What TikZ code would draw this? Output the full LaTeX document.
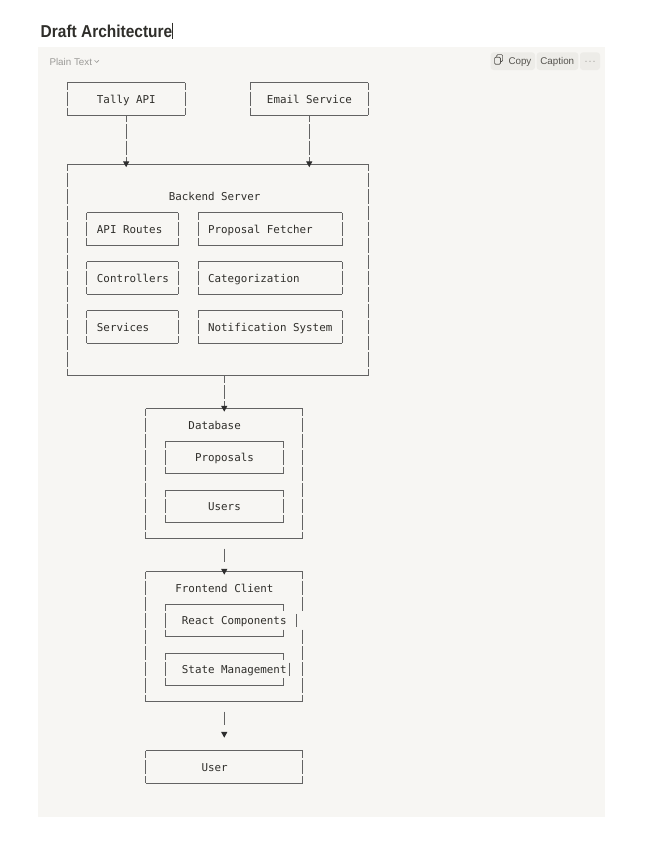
\documentclass[tikz,border=0pt]{standalone}
\usepackage{fontspec}
\setmainfont{Liberation Sans}
\newfontfamily\monofont{DejaVu Sans Mono}
\newfontfamily\titlefont[FakeStretch=0.9]{Liberation Sans}
\usetikzlibrary{arrows.meta,calc}
\definecolor{blockbg}{HTML}{F7F6F3}
\definecolor{linec}{HTML}{636363}
\definecolor{txt}{HTML}{2F2E2A}
\definecolor{arrowc}{HTML}{2E2E2E}
\definecolor{uigray}{HTML}{9B9A97}
\definecolor{btnbg}{HTML}{EDECE8}
\definecolor{btntxt}{HTML}{55534E}
\tikzset{
  hline/.style={draw=linec, line width=0.95pt, line cap=square},
  vline/.style={draw=linec, line width=0.95pt, dash pattern=on 14.3pt off 2pt, dash phase=7.15pt},
  vlineB/.style={draw=linec, line width=0.95pt, dash pattern=on 14.3pt off 2pt},
  bar/.style={draw=linec, line width=0.95pt},
  abox/.style 2 args={rectangle, inner sep=0pt, outer sep=0pt, minimum width=#1*6.54pt, minimum height=#2*16.3pt},
  lbl/.style={anchor=base west, inner sep=0pt, font=\monofont\fontsize{10.86}{13}\selectfont, text=txt},
  conn/.style={vline, -{Triangle[width=6pt,length=5.8pt,color=arrowc]}},
  shortconn/.style={draw=linec, line width=0.95pt, dash pattern=on 0pt off 9.65pt on 13.3pt off 40pt, -{Triangle[width=6pt,length=5.8pt,color=arrowc]}},
  uilbl/.style={anchor=base west, inner sep=0pt, font=\fontsize{9.8}{12}\selectfont},
  btn/.style={fill=btnbg, rounded corners=3pt}
}
\newcommand\asciibox[1]{%
  \draw[hline] (#1.north west) -- (#1.north east);
  \draw[hline] (#1.south west) -- (#1.south east);
  \draw[vline] (#1.north west) -- (#1.south west);
  \draw[vline] (#1.north east) -- (#1.south east);}
\begin{document}
\begin{tikzpicture}[x=1pt,y=-1pt]
\useasboundingbox (0,0) rectangle (662,847);
\fill[white] (0,0) rectangle (662,847);
\fill[blockbg] (38,47) rectangle (605,817);
% title and cursor
\node[anchor=base west, inner sep=0pt, font=\titlefont\bfseries\fontsize{17.2}{20}\selectfont, text=txt] (title) at (40.5,37.5) {Draft Architecture};
\draw[txt, line width=1.1pt] (172.7,22.7) -- (172.7,39.3);
% code block header
\node[uilbl, text=uigray, font=\fontsize{9.8}{11}\selectfont] (lang) at (49.3,65) {Plain Text};
\draw[uigray, line width=0.6pt] (94.6,60.3) -- (96.7,62.5) -- (98.8,60.3);
\fill[btn] (490.7,52.3) rectangle (535,70);
\fill[btn] (536.7,52.3) rectangle (578.3,70);
\fill[btn] (580,52.3) rectangle (600,70);
\draw[btntxt, line width=0.7pt, rounded corners=1pt] (496.8,54.6) rectangle (502.6,61.4);
\filldraw[fill=btnbg, draw=btntxt, line width=0.7pt, rounded corners=1pt] (494.6,57.2) rectangle (500.4,64.2);
\node[uilbl, text=btntxt] (copy) at (508.3,64.6) {Copy};
\node[uilbl, text=btntxt] (caption) at (540.2,64.6) {Caption};
\fill[uigray] (586,61.2) circle (0.65pt) (590,61.2) circle (0.65pt) (594,61.2) circle (0.65pt);

\begin{scope}[shift={(67.3,82.5)}, x=6.54pt, y=-16.3pt]
  % boxes
  \node[abox={18}{2}] (tally) at (9,1) {};
  \node[abox={18}{2}] (email) at (37,1) {};
  \node[abox={46}{13}] (backend) at (23,11.5) {};
  \node[abox={14}{2}] (apir) at (10,9) {};
  \node[abox={22}{2}] (fetch) at (31,9) {};
  \node[abox={14}{2}] (ctrl) at (10,12) {};
  \node[abox={22}{2}] (categ) at (31,12) {};
  \node[abox={14}{2}] (serv) at (10,15) {};
  \node[abox={22}{2}] (notif) at (31,15) {};
  \node[abox={24}{8}] (db) at (24,24) {};
  \node[abox={18}{2}] (props) at (24,23) {};
  \node[abox={18}{2}] (users) at (24,26) {};
  \node[abox={24}{8}] (fe) at (24,34) {};
  \node[abox={18}{2}] (react) at (24,33) {};
  \node[abox={18}{2}] (state) at (24,36) {};
  \node[abox={24}{2}] (user) at (24,42) {};
  \coordinate (uarrow) at ($(user.north)+(0,-1+0.196)$);

  \asciibox{tally}
  \asciibox{email}
  \asciibox{backend}
  \asciibox{apir}
  \asciibox{fetch}
  \asciibox{ctrl}
  \asciibox{categ}
  \asciibox{serv}
  \asciibox{notif}
  \asciibox{db}
  \asciibox{props}
  \asciibox{users}
  \asciibox{user}
  % frontend box (right side broken by the long row)
  \draw[hline] (fe.north west) -- (fe.north east);
  \draw[hline] (fe.south west) -- (fe.south east);
  \draw[vline] (fe.north west) -- (fe.south west);
  \draw[vline] (fe.north east) -- ($(fe.north east)+(0,2.5-0.061)$);
  \draw[vlineB] ($(fe.south east)+(0,-4.5+0.061)$) -- (fe.south east);
  % react and state boxes (right side only corners)
  \foreach \b in {react,state}{
    \draw[hline] (\b.north west) -- (\b.north east);
    \draw[hline] (\b.south west) -- (\b.south east);
    \draw[vline] (\b.north west) -- (\b.south west);
    \draw[bar] (\b.north east) -- ($(\b.north east)+(0,0.5-0.061)$);
    \draw[bar] ($(\b.south east)+(0,-0.5+0.061)$) -- (\b.south east);
  }
  \draw[bar] (35,33-0.408) -- (35,33+0.408);
  \draw[bar] (34,36-0.408) -- (34,36+0.408);

  % labels
  \node[lbl] (tTally) at (4.5,1.264) {Tally API};
  \node[lbl] (tEmail) at (30.5,1.264) {Email Service};
  \node[lbl] (tBackend) at (15.5,7.264) {Backend Server};
  \node[lbl] (tApi) at (4.5,9.264) {API Routes};
  \node[lbl] (tFetch) at (21.5,9.264) {Proposal Fetcher};
  \node[lbl] (tCtrl) at (4.5,12.264) {Controllers};
  \node[lbl] (tCateg) at (21.5,12.264) {Categorization};
  \node[lbl] (tServ) at (4.5,15.264) {Services};
  \node[lbl] (tNotif) at (21.5,15.264) {Notification System};
  \node[lbl] (tDb) at (18.5,21.264) {Database};
  \node[lbl] (tProps) at (19.5,23.264) {Proposals};
  \node[lbl] (tUsers) at (21.5,26.264) {Users};
  \node[lbl] (tFe) at (16.5,31.264) {Frontend Client};
  \node[lbl] (tReact) at (17.5,33.264) {React Components};
  \node[lbl] (tState) at (17.5,36.264) {State Management};
  \node[lbl] (tUser) at (20.5,42.264) {User};

  % connectors
  \draw[conn] (tally.south) -- ($(tally.south |- backend.north)+(0,0.196)$);
  \draw[conn] (email.south) -- ($(email.south |- backend.north)+(0,0.196)$);
  \draw[conn] (backend.south -| db.north) -- ($(db.north)+(0,0.196)$);
  \draw[shortconn] (db.south) -- ($(fe.north)+(0,0.196)$);
  \draw[shortconn] (fe.south) -- (uarrow);
\end{scope}
\end{tikzpicture}
\end{document}
